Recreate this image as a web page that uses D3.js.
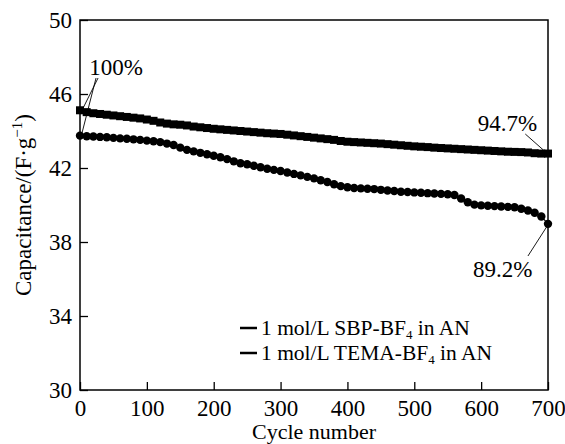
<!DOCTYPE html>
<html>
<head>
<meta charset="utf-8">
<script src="https://cdn.jsdelivr.net/npm/d3@7"></script>
<style>
  body { margin: 0; background: #fff; }
</style>
</head>
<body>
<div id="chart"></div>
<script>
// cycle numbers, every 10 cycles
var cycles = d3.range(0, 701, 10);

// 1 mol/L SBP-BF4 in AN (squares)
var sbpValues = [45.12, 45.02, 44.96, 44.92, 44.88, 44.84, 44.80, 44.76, 44.72, 44.68,
  44.62, 44.55, 44.46, 44.40, 44.36, 44.34, 44.30, 44.24, 44.20, 44.16,
  44.12, 44.09, 44.06, 44.03, 44.00, 43.97, 43.94, 43.91, 43.88, 43.86,
  43.84, 43.80, 43.76, 43.72, 43.68, 43.64, 43.60, 43.56, 43.52, 43.46,
  43.42, 43.40, 43.38, 43.36, 43.34, 43.32, 43.29, 43.26, 43.23, 43.20,
  43.17, 43.15, 43.13, 43.10, 43.08, 43.06, 43.04, 43.02, 43.00, 42.98,
  42.96, 42.94, 42.92, 42.90, 42.88, 42.87, 42.86, 42.84, 42.80, 42.78, 42.78];

// 1 mol/L TEMA-BF4 in AN (circles)
var temaValues = [43.75, 43.72, 43.70, 43.68, 43.66, 43.63, 43.60, 43.58, 43.55, 43.52,
  43.48, 43.45, 43.40, 43.32, 43.24, 43.10, 42.98, 42.90, 42.82, 42.74,
  42.66, 42.58, 42.48, 42.36, 42.26, 42.20, 42.12, 42.04, 41.96, 41.90,
  41.84, 41.76, 41.68, 41.60, 41.52, 41.44, 41.34, 41.24, 41.12, 41.02,
  40.96, 40.92, 40.90, 40.88, 40.86, 40.82, 40.78, 40.76, 40.72, 40.70,
  40.68, 40.66, 40.64, 40.62, 40.60, 40.58, 40.54, 40.35, 40.15, 40.02,
  39.98, 39.96, 39.94, 39.92, 39.90, 39.88, 39.80, 39.70, 39.58, 39.38, 38.98];

var xTicks = [0, 100, 200, 300, 400, 500, 600, 700];
var yTicks = [30, 34, 38, 42, 46, 50];

var serif = "'Liberation Serif', 'Times New Roman', 'DejaVu Serif', serif";

var margin = {top: 20, right: 17, bottom: 54, left: 80},
    width = 565 - margin.left - margin.right,
    height = 444 - margin.top - margin.bottom;

var svg = d3.select("#chart")
    .append("svg")
    .attr("width", 565)
    .attr("height", 444);

var g = svg.append("g")
    .attr("transform", "translate(" + margin.left + "," + margin.top + ")");

var x = d3.scaleLinear().domain([0, 700]).range([0, width]);
var y = d3.scaleLinear().domain([30, 50]).range([height, 0]);

// axes with inward ticks
var xAxis = g.append("g")
    .attr("transform", "translate(0," + height + ")")
    .call(d3.axisBottom(x).tickValues(xTicks).tickSize(-8).tickPadding(10));
var yAxis = g.append("g")
    .call(d3.axisLeft(y).tickValues(yTicks).tickSize(-8).tickPadding(8));

[xAxis, yAxis].forEach(function(a) {
    a.attr("font-family", null).attr("font-size", null);
    a.select(".domain").remove();
    a.selectAll("line").attr("stroke", "#000").attr("stroke-width", 1.3);
    a.selectAll("text").style("font-size", "23px").style("font-family", serif).attr("fill", "#000");
});

// frame
g.append("rect")
    .attr("width", width)
    .attr("height", height)
    .attr("fill", "none")
    .attr("stroke", "#000")
    .attr("stroke-width", 1.5);

var line = d3.line()
    .x(function(d) { return x(d[0]); })
    .y(function(d) { return y(d[1]); });

var sbp = cycles.map(function(c, i) { return [c, sbpValues[i]]; });
var tema = cycles.map(function(c, i) { return [c, temaValues[i]]; });

g.append("path").datum(sbp)
    .attr("d", line).attr("fill", "none").attr("stroke", "#000").attr("stroke-width", 1.2);
g.append("path").datum(tema)
    .attr("d", line).attr("fill", "none").attr("stroke", "#000").attr("stroke-width", 1.2);

g.selectAll(".sq")
    .data(sbp)
    .enter().append("rect")
    .attr("class", "sq")
    .attr("x", function(d) { return x(d[0]) - 4; })
    .attr("y", function(d) { return y(d[1]) - 4; })
    .attr("width", 8)
    .attr("height", 8)
    .attr("fill", "#000");

g.selectAll(".dot")
    .data(tema)
    .enter().append("circle")
    .attr("class", "dot")
    .attr("cx", function(d) { return x(d[0]); })
    .attr("cy", function(d) { return y(d[1]); })
    .attr("r", 4.2)
    .attr("fill", "#000");

// annotations
function leader(x1, y1, x2, y2) {
    g.append("line")
        .attr("x1", x1).attr("y1", y1).attr("x2", x2).attr("y2", y2)
        .attr("stroke", "#000").attr("stroke-width", 0.9);
}
function label(xp, yp, s) {
    return g.append("text").attr("x", xp).attr("y", yp)
        .style("font-size", "23px").style("font-family", serif).text(s);
}
label(x(14), 55, "100%");
leader(x(27), 58, x(3), y(sbpValues[0]));
leader(x(24), 58, x(2), y(temaValues[0]));

label(x(595), 111, "94.7%");
leader(x(666), 114, x(694), y(sbpValues[70]) - 3);

label(x(588), 257, "89.2%");
leader(x(670), 236, x(698), y(temaValues[70]) + 3);

// legend
var legend = g.append("g").attr("transform", "translate(160,308)");
["SBP", "TEMA"].forEach(function(name, i) {
    var row = legend.append("g").attr("transform", "translate(0," + (i * 25) + ")");
    row.append("line")
        .attr("x1", 0).attr("x2", 17).attr("y1", 0).attr("y2", 0)
        .attr("stroke", "#000").attr("stroke-width", 2.5);
    var t = row.append("text").attr("x", 21).attr("y", 7)
        .style("font-size", "21.5px").style("font-family", serif);
    t.append("tspan").text("1 mol/L " + name + "-BF");
    t.append("tspan").attr("dy", 4).style("font-size", "13px").text("4");
    t.append("tspan").attr("dy", -4).text(" in AN");
});

// axis titles
svg.append("text")
    .attr("x", margin.left + width / 2)
    .attr("y", 439)
    .attr("text-anchor", "middle")
    .style("font-size", "22px")
    .style("font-family", serif)
    .text("Cycle number");

var yt = svg.append("text")
    .attr("transform", "translate(31," + (margin.top + height / 2) + ") rotate(-90)")
    .attr("text-anchor", "middle")
    .style("font-size", "23px")
    .style("font-family", serif);
yt.append("tspan").text("Capacitance/(F·g");
yt.append("tspan").attr("dy", -9).style("font-size", "15px").text("−1");
yt.append("tspan").attr("dy", 9).text(")");
</script>
</body>
</html>
